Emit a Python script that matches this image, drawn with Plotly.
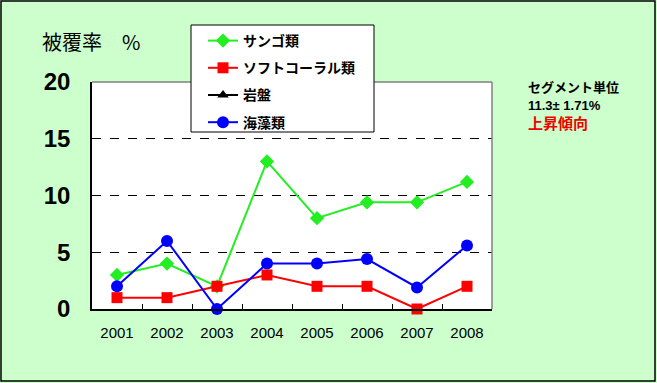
import plotly.graph_objects as go

years = ["2001", "2002", "2003", "2004", "2005", "2006", "2007", "2008"]
sango = [3.0, 4.0, 2.0, 13.0, 8.0, 9.4, 9.4, 11.2]
soft_coral = [1.0, 1.0, 2.0, 3.0, 2.0, 2.0, 0.0, 2.0]
ganban = [None, None, None, None, None, None, None, None]
kaisou = [2.0, 6.0, 0.0, 4.0, 4.0, 4.4, 1.9, 5.6]
y_ticks = [0, 5, 10, 15, 20]

W, H = 657, 383
L, R, T, B = 92, 165, 82, 74
PW, PH = W - L - R, H - T - B

def px_x(p):
    return (p - L) / PW

def px_y(p):
    return (H - B - p) / PH

fig = go.Figure()
fig.add_trace(go.Scatter(x=years, y=sango, name="サンゴ類", mode="lines+markers",
                         line=dict(color="#22EE22", width=2),
                         marker=dict(symbol="diamond", size=11, color="#22EE22"),
                         cliponaxis=False, legendgroup="a"))
fig.add_trace(go.Scatter(x=years, y=soft_coral, name="ソフトコーラル類", mode="lines+markers",
                         line=dict(color="#FF0000", width=2),
                         marker=dict(symbol="square", size=11, color="#FF0000"),
                         cliponaxis=False, legendgroup="b"))
fig.add_trace(go.Scatter(x=years, y=ganban, name="岩盤", mode="lines+markers",
                         line=dict(color="#000000", width=2),
                         marker=dict(symbol="triangle-up", size=10, color="#000000"),
                         cliponaxis=False, legendgroup="c"))
fig.add_trace(go.Scatter(x=years, y=kaisou, name="海藻類", mode="lines+markers",
                         line=dict(color="#0000FF", width=2),
                         marker=dict(symbol="circle", size=12, color="#0000FF"),
                         cliponaxis=False, legendgroup="d"))

shapes = [
    # outer figure border
    dict(type="rect", xref="paper", yref="paper",
         x0=px_x(1), x1=px_x(655), y0=px_y(381), y1=px_y(1),
         line=dict(color="black", width=1.5), layer="below"),
    # top and right plot border (grey)
    dict(type="line", xref="paper", yref="paper", x0=0, x1=1, y0=1, y1=1,
         line=dict(color="#808080", width=1.5), layer="above"),
    dict(type="line", xref="paper", yref="paper", x0=1, x1=1, y0=0, y1=1,
         line=dict(color="#808080", width=1.5), layer="above"),
    # legend box
    dict(type="rect", xref="paper", yref="paper",
         x0=px_x(191), x1=px_x(374), y0=px_y(132), y1=px_y(25),
         line=dict(color="black", width=1), fillcolor="white", layer="above"),
]

annotations = [
    dict(text="被覆率　%", xref="paper", yref="paper", x=px_x(40), y=px_y(42),
         xanchor="left", yanchor="middle", showarrow=False,
         font=dict(family="Noto Sans CJK JP", size=20, color="black")),
    dict(text="セグメント単位", xref="paper", yref="paper", x=px_x(526), y=px_y(86),
         xanchor="left", yanchor="middle", showarrow=False,
         font=dict(family="Noto Sans CJK JP", size=13, color="black", weight="bold")),
    dict(text="11.3± 1.71%", xref="paper", yref="paper", x=px_x(526), y=px_y(105),
         xanchor="left", yanchor="middle", showarrow=False,
         font=dict(family="Liberation Sans", size=13, color="black", weight="bold")),
    dict(text="上昇傾向", xref="paper", yref="paper", x=px_x(526), y=px_y(122),
         xanchor="left", yanchor="middle", showarrow=False,
         font=dict(family="Noto Sans CJK JP", size=15, color="#EE0000", weight="bold")),
]

fig.update_layout(
    width=W, height=H,
    margin=dict(l=L, r=R, t=T, b=B, pad=0),
    paper_bgcolor="#CCFFCC",
    plot_bgcolor="white",
    showlegend=True,
    legend=dict(x=px_x(203), y=px_y(25), xanchor="left", yanchor="top",
                bgcolor="rgba(0,0,0,0)", borderwidth=0,
                font=dict(family="Noto Sans CJK JP", size=14, color="black", weight="bold"),
                tracegroupgap=6, itemwidth=30),
    shapes=shapes,
    annotations=annotations,
    xaxis=dict(type="category", categoryorder="array", categoryarray=years,
               range=[-0.5, 7.5], showgrid=False, zeroline=False,
               showline=True, linecolor="black", linewidth=1.5,
               ticks="inside", tickson="boundaries", ticklen=5, tickcolor="black",
               tickfont=dict(family="Liberation Sans", size=15, color="black"),
               ticklabelstandoff=9),
    yaxis=dict(range=[0, 20], tickvals=y_ticks, showgrid=True, gridcolor="black",
               griddash="dash", gridwidth=1, zeroline=False,
               showline=True, linecolor="black", linewidth=1.5, ticks="",
               tickfont=dict(family="Liberation Sans", size=24, color="black", weight="bold"),
               ticklabelstandoff=15),
)

fig.write_html("out.html", config={"displayModeBar": False},
               post_script="document.body.style.margin='0px';")
